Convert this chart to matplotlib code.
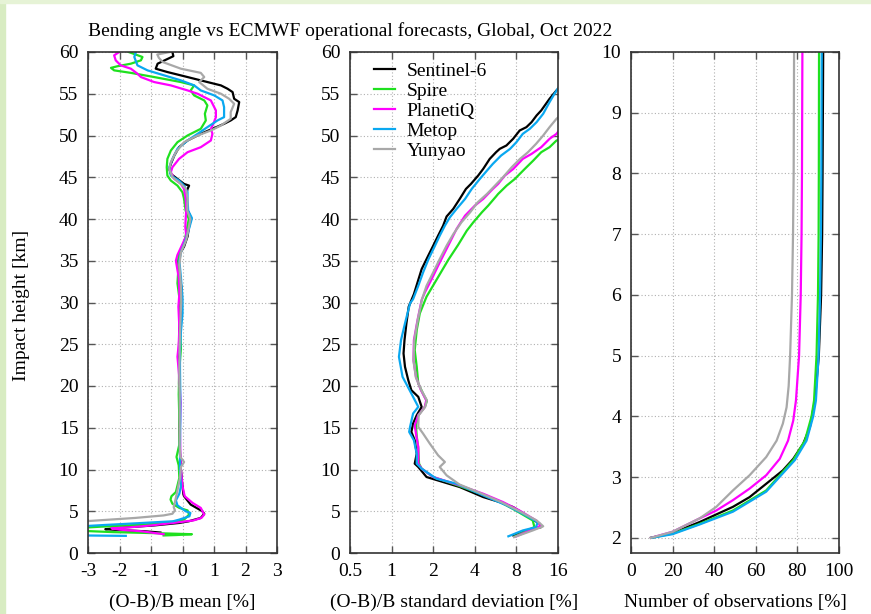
import numpy as np
import matplotlib
matplotlib.use("Agg")
import matplotlib.pyplot as plt
from matplotlib.patches import Rectangle
from matplotlib.ticker import LogLocator, NullFormatter

plt.rcParams['font.family'] = ['Liberation Serif', 'DejaVu Serif']
plt.rcParams['font.size'] = 14
plt.rcParams['axes.unicode_minus'] = False

names = ['Sentinel-6', 'Spire', 'PlanetiQ', 'Metop', 'Yunyao']
colors = ['#000000', '#1fe01f', '#ff00ff', '#0aa8f0', '#a8a8a8']

# ---- panel 1: (O-B)/B mean [%] vs impact height [km]
mean_h_s6 = [60.0, 59.5, 58.6, 58.0, 57.6, 57.0, 56.6, 56.0, 55.6, 55.2, 54.4, 54.0, 53.0, 52.2, 51.8,
             51.4, 50.8, 50.2, 49.4, 48.6, 47.6, 46.6, 46.0, 45.4, 44.8, 44.2, 44.0, 43.6, 42.5, 41.1,
             40.1, 39.1, 37.9, 36.7, 35.7, 34.9, 33.1, 31.5, 29.9, 27.5, 25.1, 22.7, 20.3, 18.0, 15.0,
             12.0, 10.0, 8.7, 7.0, 6.8, 5.8, 5.0, 4.7, 4.2, 3.8, 3.6, 3.3, 3.05, 2.85, 2.75, 2.6, 2.45]
mean_s6 = [-0.32, -0.29, -0.79, -0.85, -0.48, 0.16, 0.58, 1.22, 1.43, 1.59, 1.64, 1.80, 1.75, 1.69, 1.53,
           1.32, 0.95, 0.58, 0.16, -0.11, -0.26, -0.37, -0.42, -0.37, -0.16, 0.05, 0.21, 0.16, 0.10, 0.16,
           0.27, 0.21, 0.16, 0.05, -0.11, -0.13, -0.09, -0.02, -0.02, -0.09, -0.11, -0.11, -0.11, -0.08, -0.10,
           -0.08, -0.05, -0.02, 0.03, 0.05, 0.26, 0.63, 0.69, 0.58, 0.20, -0.10, -0.90, -1.90, -2.45, -2.00, -1.20, -0.70]

mean_h_spire = [60.0, 59.4, 59.0, 58.6, 58.3, 58.1, 57.8, 57.5, 57.0, 56.4, 56.0, 55.4, 54.8, 54.2, 53.6,
                52.6, 51.8, 50.8, 50.0, 49.2, 48.2, 47.2, 46.2, 45.2, 44.6, 44.0, 43.2, 42.4, 41.0, 40.0,
                39.0, 37.0, 35.5, 33.5, 32.3, 30.0, 27.0, 24.5, 22.0, 19.0, 16.0, 13.0, 11.5, 10.5, 9.0,
                7.3, 6.8, 6.4, 5.9, 5.4, 5.1, 4.6, 4.0, 3.6, 3.35, 3.15, 3.0, 2.7, 2.5, 2.35, 2.25, 2.15, 2.1]
mean_spire = [-1.71, -1.27, -1.32, -1.64, -2.06, -2.27, -2.17, -1.64, -0.90, -0.05, 0.37, 0.26, 0.37, 0.69, 0.79,
              0.71, 0.74, 0.58, 0.16, -0.16, -0.37, -0.48, -0.50, -0.48, -0.37, -0.16, 0.00, 0.05, 0.10, 0.20,
              0.15, 0.05, -0.12, -0.14, -0.16, -0.08, -0.08, -0.05, -0.10, -0.12, -0.10, -0.10, -0.19, -0.12, -0.10,
              -0.21, -0.35, -0.38, -0.32, -0.10, 0.16, 0.21, 0.05, -0.48, -1.50, -2.60, -3.30, -3.50, -2.20, -0.60, 0.30, -0.20, -0.60]

mean_h_piq = [60.0, 59.6, 59.0, 58.4, 58.0, 57.4, 57.0, 56.4, 56.0, 55.4, 55.0, 54.2, 53.0, 52.2, 51.4,
              50.8, 50.2, 49.4, 48.6, 48.0, 47.2, 46.2, 45.6, 44.8, 44.2, 43.6, 42.4, 41.0, 40.0, 39.0,
              38.0, 37.0, 35.7, 35.0, 33.0, 31.0, 29.5, 27.0, 25.0, 23.5, 21.0, 18.0, 15.0, 12.0, 10.0,
              8.0, 6.8, 6.0, 5.4, 4.6, 4.2, 3.9, 3.6, 3.3, 3.1, 2.95, 2.8, 2.6, 2.4, 2.25]
mean_piq = [-2.01, -2.17, -2.12, -1.96, -1.64, -1.43, -1.32, -0.90, -0.37, 0.16, 0.48, 0.90, 1.06, 1.06, 0.98,
            0.90, 0.95, 0.90, 0.58, 0.16, -0.11, -0.32, -0.37, -0.26, -0.05, 0.05, 0.10, 0.12, 0.10, 0.09,
            0.12, 0.00, -0.16, -0.21, -0.12, -0.10, -0.13, -0.10, -0.12, -0.16, -0.10, -0.06, -0.08, -0.07, -0.05,
            0.00, 0.07, 0.32, 0.58, 0.69, 0.60, 0.35, -0.30, -1.00, -1.60, -2.25, -2.00, -1.30, -0.90, -0.60]

mean_h_metop = [60.0, 59.4, 58.4, 57.8, 57.2, 56.6, 56.0, 55.4, 54.8, 54.2, 53.4, 52.2, 51.8, 51.4, 51.0,
                50.2, 49.4, 48.4, 47.2, 46.2, 45.2, 44.6, 44.0, 43.2, 42.4, 41.0, 40.1, 39.0, 37.5, 36.0,
                35.0, 33.0, 30.5, 28.7, 26.5, 24.0, 22.0, 19.0, 16.0, 13.0, 10.0, 8.0, 7.1, 6.3, 5.7,
                5.0, 4.8, 4.4, 4.0, 3.8, 3.55, 3.35, 3.2, 2.6, 2.1, 2.05]
mean_metop = [-1.48, -1.53, -1.43, -1.11, -0.58, -0.05, 0.37, 0.58, 1.01, 1.27, 1.32, 1.32, 1.11, 0.95, 0.79,
              0.48, 0.16, -0.16, -0.32, -0.42, -0.37, -0.11, 0.05, 0.16, 0.16, 0.18, 0.30, 0.22, 0.10, -0.05,
              -0.10, -0.05, 0.00, 0.00, -0.05, -0.08, -0.08, -0.07, -0.07, -0.08, -0.08, -0.05, -0.10, -0.21, -0.16,
              0.10, 0.25, 0.22, -0.10, -0.30, -1.50, -2.50, -3.20, -3.50, -3.10, -1.80]

mean_h_yun = [60.0, 59.7, 59.3, 58.8, 58.0, 57.5, 57.0, 56.4, 55.6, 55.0, 54.4, 53.8, 52.8, 52.0, 51.2,
              50.6, 50.0, 49.2, 48.0, 46.8, 46.0, 45.0, 44.2, 43.6, 42.4, 41.0, 40.0, 39.0, 37.5, 36.0,
              34.5, 32.0, 30.0, 27.5, 25.0, 22.0, 19.0, 16.0, 13.0, 11.5, 10.9, 10.3, 9.0, 7.5, 6.1,
              5.5, 5.1, 4.7, 4.5, 4.2, 3.95, 3.8, 3.7]
mean_yun = [-0.40, -0.80, -0.75, -0.63, -0.05, 0.58, 0.69, 0.53, 0.79, 1.22, 1.48, 1.64, 1.53, 1.53, 1.22,
            0.90, 0.48, 0.05, -0.21, -0.37, -0.42, -0.32, -0.05, 0.11, 0.16, 0.15, 0.25, 0.20, 0.12, -0.05,
            -0.10, -0.05, -0.04, -0.07, -0.09, -0.10, -0.09, -0.09, -0.09, -0.07, 0.05, -0.05, -0.08, -0.16, -0.24,
            -0.28, -0.24, -0.32, -0.60, -1.50, -2.50, -3.10, -3.40]

# ---- panel 2: (O-B)/B standard deviation [%]
std_h_s6 = [56.0, 55.4, 54.4, 53.0, 52.4, 51.6, 51.0, 50.6, 49.6, 48.8, 48.4, 48.0, 47.2, 46.0, 45.2,
            44.2, 43.6, 42.4, 41.2, 40.3, 39.2, 38.0, 36.8, 35.6, 34.0, 32.7, 31.0, 29.5, 27.5, 25.5,
            23.9, 22.3, 20.7, 19.5, 18.7, 17.5, 16.5, 15.5, 14.5, 13.5, 11.9, 10.7, 10.3, 9.1, 8.5,
            7.9, 6.7, 6.1, 5.5, 4.5, 3.5, 3.1, 2.7, 2.1]
std_s6 = [17.0, 15.6, 13.9, 12.1, 11.2, 10.3, 9.45, 8.45, 7.57, 6.77, 6.06, 5.7, 5.13, 4.6, 4.23,
          3.75, 3.45, 3.11, 2.79, 2.5, 2.36, 2.17, 2.0, 1.84, 1.65, 1.56, 1.45, 1.33, 1.28, 1.24,
          1.22, 1.25, 1.32, 1.39, 1.56, 1.65, 1.52, 1.43, 1.39, 1.47, 1.52, 1.47, 1.56, 1.79, 2.36,
          3.11, 4.6, 6.06, 7.57, 9.45, 11.8, 12.1, 9.45, 7.6]

std_h_spire = [49.6, 49.4, 48.6, 48.0, 47.0, 46.0, 44.8, 44.0, 43.0, 42.7, 41.6, 40.8, 39.6, 38.6, 36.9,
               35.1, 32.7, 30.7, 28.7, 26.7, 24.3, 22.3, 20.3, 19.0, 18.2, 17.5, 16.5, 15.3, 14.0, 12.5,
               10.7, 10.1, 9.1, 8.1, 7.1, 6.1, 5.1, 3.9, 3.1, 2.7, 2.0]
std_spire = [17.0, 15.6, 13.9, 12.1, 10.6, 9.2, 7.8, 6.8, 5.9, 5.7, 5.0, 4.5, 3.9, 3.5, 3.03,
             2.57, 2.11, 1.79, 1.6, 1.52, 1.47, 1.52, 1.56, 1.7, 1.8, 1.74, 1.56, 1.5, 1.52, 1.56,
             1.58, 1.65, 2.0, 3.0, 4.4, 6.1, 7.9, 10.5, 10.8, 9.6, 7.8]

std_h_piq = [51.0, 50.2, 49.6, 48.6, 47.8, 47.2, 46.0, 45.2, 44.2, 43.6, 42.4, 41.6, 40.4, 38.8, 37.2,
             35.6, 34.4, 32.8, 31.2, 30.3, 27.9, 25.5, 23.1, 21.1, 19.5, 18.3, 17.5, 16.5, 15.3, 14.3,
             12.7, 10.7, 10.1, 9.1, 8.1, 7.1, 6.1, 5.1, 3.9, 3.3, 2.7, 2.0]
std_piq = [17.0, 15.6, 13.9, 12.1, 10.3, 8.9, 7.6, 6.6, 5.9, 5.4, 4.6, 4.0, 3.4, 2.95, 2.64,
           2.36, 2.17, 1.95, 1.74, 1.65, 1.54, 1.45, 1.44, 1.5, 1.63, 1.78, 1.74, 1.56, 1.47, 1.5,
           1.56, 1.56, 1.65, 2.0, 3.11, 4.6, 6.4, 8.4, 11.1, 12.1, 10.0, 8.0]

std_h_metop = [56.0, 55.0, 54.0, 52.6, 51.6, 50.8, 50.2, 49.2, 48.4, 47.6, 46.6, 45.8, 44.8, 43.6, 42.4,
               41.2, 40.2, 39.2, 38.0, 36.8, 35.2, 33.6, 32.0, 30.4, 29.9, 27.5, 25.5, 23.5, 21.1, 19.1,
               17.5, 16.7, 15.1, 14.5, 13.5, 11.9, 10.7, 10.1, 8.9, 8.3, 6.9, 5.7, 4.7, 3.7, 3.1,
               2.7, 2.0]
std_metop = [16.5, 15.1, 13.9, 12.5, 11.2, 10.0, 8.9, 8.0, 7.2, 6.2, 5.4, 4.9, 4.35, 3.8, 3.4,
             2.95, 2.64, 2.43, 2.23, 2.06, 1.85, 1.69, 1.56, 1.43, 1.36, 1.25, 1.17, 1.13, 1.2, 1.39,
             1.56, 1.43, 1.36, 1.34, 1.45, 1.52, 1.52, 1.65, 2.11, 2.95, 4.6, 6.8, 8.9, 11.4, 11.1,
             8.9, 7.0]

std_h_yun = [52.5, 52.0, 51.0, 50.0, 49.0, 48.0, 47.2, 46.2, 45.0, 44.0, 43.0, 42.0, 40.8, 39.6, 38.2,
             36.8, 35.2, 33.6, 32.0, 30.4, 28.0, 25.5, 23.0, 21.0, 19.5, 18.3, 17.5, 16.5, 15.1, 14.3,
             13.1, 11.7, 10.9, 10.3, 9.3, 8.2, 7.1, 6.1, 5.1, 3.9, 3.2, 2.7, 1.9]
std_yun = [17.0, 15.6, 13.9, 12.5, 11.1, 9.7, 8.5, 7.4, 6.4, 5.6, 4.9, 4.2, 3.7, 3.2, 2.8,
           2.5, 2.23, 2.0, 1.79, 1.66, 1.55, 1.46, 1.44, 1.5, 1.64, 1.8, 1.75, 1.57, 1.56, 1.69,
           1.89, 2.17, 2.43, 2.23, 2.5, 3.1, 4.5, 6.2, 8.2, 11.2, 12.5, 10.5, 7.7]

# ---- panel 3: number of observations [%]
nobs_h_s6 = [2.0, 2.08, 2.26, 2.51, 2.67, 2.89, 3.11, 3.3, 3.55, 3.82, 4.26, 5.0, 6.0, 7.0, 8.0, 10.0]
nobs_s6 = [9.6, 20, 33, 49, 57, 65, 73, 78, 82.8, 86, 88.4, 90.3, 91.4, 91.9, 92.1, 92.4]
nobs_h_spire = [2.0, 2.07, 2.23, 2.45, 2.78, 3.28, 3.6, 4.0, 4.26, 5.0, 6.0, 7.0, 8.0, 10.0]
nobs_spire = [9.6, 20, 33, 49, 65, 78, 83.6, 86.8, 88, 89.2, 89.9, 90.2, 90.3, 90.4]
nobs_h_piq = [2.0, 2.1, 2.32, 2.45, 2.62, 2.81, 3.03, 3.3, 3.6, 3.93, 4.26, 5.0, 6.0, 7.0, 8.0, 10.0]
nobs_piq = [9.6, 20, 33, 41, 49, 57, 65, 71.5, 75.5, 78, 79.3, 80.8, 81.6, 82, 82.2, 82.4]
nobs_h_metop = [2.0, 2.06, 2.22, 2.43, 2.76, 3.28, 3.6, 4.0, 4.26, 5.0, 6.0, 7.0, 8.0, 10.0]
nobs_metop = [10, 20, 33, 49, 65, 78.8, 84.4, 87.6, 88.9, 90.2, 90.9, 91.3, 91.5, 91.7]
nobs_h_yun = [2.0, 2.1, 2.32, 2.51, 2.78, 3.03, 3.33, 3.6, 3.88, 4.15, 4.5, 5.0, 6.0, 7.0, 8.0, 10.0]
nobs_yun = [9.6, 20, 33, 41, 49, 57, 65, 70, 73, 74.8, 75.8, 76.5, 77.4, 77.9, 78.2, 78.4]

mean_data = [(mean_s6, mean_h_s6), (mean_spire, mean_h_spire), (mean_piq, mean_h_piq),
             (mean_metop, mean_h_metop), (mean_yun, mean_h_yun)]
std_data = [(std_s6, std_h_s6), (std_spire, std_h_spire), (std_piq, std_h_piq),
            (std_metop, std_h_metop), (std_yun, std_h_yun)]
nobs_data = [(nobs_s6, nobs_h_s6), (nobs_spire, nobs_h_spire), (nobs_piq, nobs_h_piq),
             (nobs_metop, nobs_h_metop), (nobs_yun, nobs_h_yun)]

W, H = 871, 614
fig = plt.figure(figsize=(W / 100, H / 100), dpi=100)
fig.patches.append(Rectangle((0, 0), 5 / W, 1, transform=fig.transFigure, color='#d8ecc2', zorder=-1))
fig.patches.append(Rectangle((0, 1 - 3 / H), 1, 3 / H, transform=fig.transFigure, color='#e6f3d6', zorder=-1))


def px_axes(l, t, r, b):
    return fig.add_axes([l / W, 1 - b / H, (r - l) / W, (b - t) / H])


ax1 = px_axes(88, 52, 277, 553)
ax2 = px_axes(350, 52, 558, 553)
ax3 = px_axes(631, 52, 839, 553)

for ax in (ax1, ax2, ax3):
    ax.grid(True, which='major', color='#b0b0b0', linestyle=(0, (1, 2)), linewidth=0.8)
    ax.tick_params(which='both', direction='in', top=True, right=True, color='#555555')
    ax.tick_params(which='major', length=5, width=1.0, pad=7)
    ax.tick_params(which='minor', length=2.5, width=0.8)
    for s in ax.spines.values():
        s.set_color('#333333')
        s.set_linewidth(1.2)

for (x, h), c in zip(mean_data, colors):
    ax1.plot(x, h, color=c, lw=1.6)
ax1.set_xlim(-3, 3)
ax1.set_ylim(0, 60)
ax1.set_xticks(range(-3, 4))
ax1.set_yticks(range(0, 61, 5))

for (x, h), c, n in zip(std_data, colors, names):
    ax2.plot(x, h, color=c, lw=1.6, label=n)
ax2.set_xscale('log', base=2)
ax2.set_xlim(0.5, 16)
ax2.set_ylim(0, 60)
ax2.set_xticks([0.5, 1, 2, 4, 8, 16])
ax2.set_xticklabels(['0.5', '1', '2', '4', '8', '16'])
ax2.xaxis.set_minor_locator(LogLocator(base=2, subs=np.arange(1.125, 2.0, 0.125)))
ax2.xaxis.set_minor_formatter(NullFormatter())
ax2.set_yticks(range(0, 61, 5))
ax2.legend(loc='upper left', bbox_to_anchor=(0.065, 1.0), frameon=False, handlelength=1.05,
           handletextpad=0.6, labelspacing=0.12, borderaxespad=0.15)

for (x, h), c in zip(nobs_data, colors):
    ax3.plot(x, h, color=c, lw=1.6)
ax3.set_xlim(0, 100)
ax3.set_ylim(1.75, 10)
ax3.set_xticks(range(0, 101, 20))
ax3.set_yticks(range(2, 11))

fig.text(88 / W, 1 - 36 / H, 'Bending angle vs ECMWF operational forecasts, Global, Oct 2022',
         ha='left', va='baseline')
fig.text(22 / W, 1 - 305 / H, 'Impact height [km]', rotation=90, ha='center', va='center')
for xc, lab in [(182.5, '(O-B)/B mean [%]'), (454, '(O-B)/B standard deviation [%]'),
                (735, 'Number of observations [%]')]:
    fig.text(xc / W, 1 - 607 / H, lab, ha='center', va='baseline')

fig.savefig('out.png', dpi=100)
